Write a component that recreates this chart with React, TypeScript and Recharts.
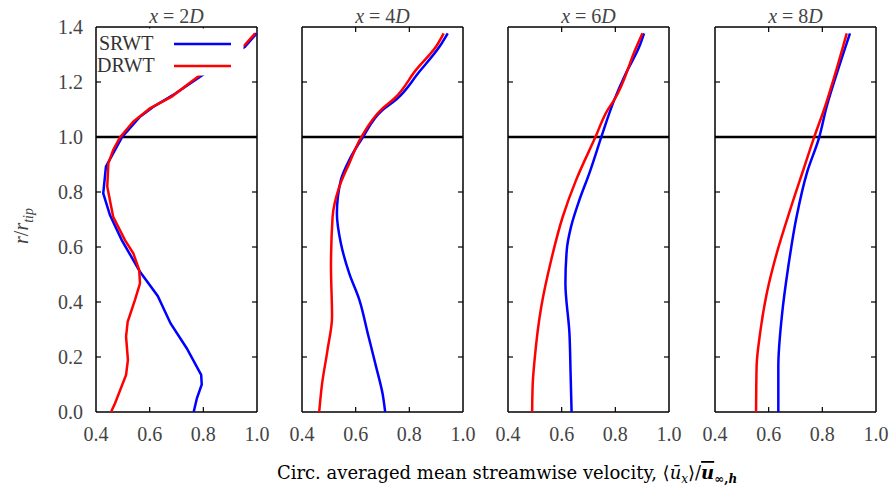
import React from 'react';
import { ScatterChart, Scatter, XAxis, YAxis, ReferenceLine } from 'recharts';

type P = { u: number; r: number };

const xTicks = [0.4, 0.6, 0.8, 1.0];
const yTicks = [0, 0.2, 0.4, 0.6, 0.8, 1.0, 1.2, 1.4];
const stations = ['2', '4', '6', '8'];
const seriesNames = ['SRWT', 'DRWT'];

const srwt2D: P[] = [
  { u: 0.764, r: 0 }, { u: 0.776, r: 0.05 }, { u: 0.794, r: 0.1 }, { u: 0.792, r: 0.135 },
  { u: 0.738, r: 0.232 }, { u: 0.678, r: 0.322 }, { u: 0.63, r: 0.422 }, { u: 0.564, r: 0.51 },
  { u: 0.496, r: 0.625 }, { u: 0.452, r: 0.716 }, { u: 0.427, r: 0.795 }, { u: 0.437, r: 0.892 },
  { u: 0.471, r: 0.953 }, { u: 0.496, r: 0.998 }, { u: 0.564, r: 1.074 }, { u: 0.614, r: 1.11 },
  { u: 0.688, r: 1.153 }, { u: 0.788, r: 1.219 }, { u: 0.955, r: 1.328 }, { u: 0.999, r: 1.377 },
];
const drwt2D: P[] = [
  { u: 0.456, r: 0 }, { u: 0.471, r: 0.032 }, { u: 0.512, r: 0.135 }, { u: 0.519, r: 0.189 },
  { u: 0.512, r: 0.274 }, { u: 0.518, r: 0.328 }, { u: 0.545, r: 0.407 }, { u: 0.564, r: 0.468 },
  { u: 0.561, r: 0.516 }, { u: 0.539, r: 0.577 }, { u: 0.508, r: 0.625 }, { u: 0.464, r: 0.71 },
  { u: 0.442, r: 0.819 }, { u: 0.446, r: 0.904 }, { u: 0.464, r: 0.953 }, { u: 0.489, r: 0.998 },
  { u: 0.539, r: 1.056 }, { u: 0.601, r: 1.104 }, { u: 0.682, r: 1.147 }, { u: 0.788, r: 1.225 },
  { u: 0.955, r: 1.335 }, { u: 0.993, r: 1.377 },
];
const srwt4D: P[] = [
  { u: 0.71, r: 0 }, { u: 0.7, r: 0.068 }, { u: 0.676, r: 0.165 }, { u: 0.645, r: 0.286 },
  { u: 0.614, r: 0.407 }, { u: 0.576, r: 0.504 }, { u: 0.545, r: 0.613 }, { u: 0.53, r: 0.722 },
  { u: 0.545, r: 0.844 }, { u: 0.576, r: 0.916 }, { u: 0.626, r: 0.998 }, { u: 0.7, r: 1.098 },
  { u: 0.75, r: 1.135 }, { u: 0.837, r: 1.237 }, { u: 0.912, r: 1.328 }, { u: 0.943, r: 1.377 },
];
const drwt4D: P[] = [
  { u: 0.464, r: 0 }, { u: 0.475, r: 0.104 }, { u: 0.495, r: 0.225 }, { u: 0.512, r: 0.347 },
  { u: 0.508, r: 0.528 }, { u: 0.514, r: 0.71 }, { u: 0.539, r: 0.819 }, { u: 0.576, r: 0.904 },
  { u: 0.62, r: 0.998 }, { u: 0.7, r: 1.104 }, { u: 0.744, r: 1.14 }, { u: 0.825, r: 1.244 },
  { u: 0.899, r: 1.328 }, { u: 0.928, r: 1.377 },
];
const srwt6D: P[] = [
  { u: 0.637, r: 0 }, { u: 0.633, r: 0.15 }, { u: 0.629, r: 0.286 }, { u: 0.614, r: 0.468 },
  { u: 0.619, r: 0.589 }, { u: 0.635, r: 0.674 }, { u: 0.666, r: 0.771 }, { u: 0.703, r: 0.868 },
  { u: 0.747, r: 0.998 }, { u: 0.796, r: 1.135 }, { u: 0.839, r: 1.231 }, { u: 0.889, r: 1.328 },
  { u: 0.907, r: 1.377 },
];
const drwt6D: P[] = [
  { u: 0.49, r: 0 }, { u: 0.492, r: 0.1 }, { u: 0.499, r: 0.189 }, { u: 0.524, r: 0.383 },
  { u: 0.561, r: 0.553 }, { u: 0.604, r: 0.71 }, { u: 0.654, r: 0.844 }, { u: 0.725, r: 0.998 },
  { u: 0.771, r: 1.098 }, { u: 0.796, r: 1.135 }, { u: 0.876, r: 1.322 }, { u: 0.901, r: 1.377 },
];
const srwt8D: P[] = [
  { u: 0.636, r: 0 }, { u: 0.636, r: 0.165 }, { u: 0.649, r: 0.347 }, { u: 0.673, r: 0.528 },
  { u: 0.704, r: 0.71 }, { u: 0.742, r: 0.868 }, { u: 0.788, r: 0.998 }, { u: 0.816, r: 1.11 },
  { u: 0.854, r: 1.231 }, { u: 0.903, r: 1.377 },
];
const drwt8D: P[] = [
  { u: 0.553, r: 0 }, { u: 0.555, r: 0.165 }, { u: 0.568, r: 0.286 }, { u: 0.593, r: 0.432 },
  { u: 0.63, r: 0.577 }, { u: 0.68, r: 0.735 }, { u: 0.729, r: 0.88 }, { u: 0.769, r: 0.998 },
  { u: 0.81, r: 1.11 }, { u: 0.841, r: 1.207 }, { u: 0.891, r: 1.377 },
];

const srwtAll = [srwt2D, srwt4D, srwt6D, srwt8D];
const drwtAll = [drwt2D, drwt4D, drwt6D, drwt8D];

const X_DOMAIN: [number, number] = [0.4, 1.0];
const Y_DOMAIN: [number, number] = [0, 1.4];

const panelLefts = [96, 302, 508, 715];
const PW = 161;
const TOP = 27;
const BOTTOM = 412;
const H = 488;
const W = 891;
const BLUE = '#0000ff';
const RED = '#ff0000';
const FONT = "'Liberation Serif', 'DejaVu Serif', serif";
const LABEL_FONT = "'DejaVu Serif', 'Liberation Serif', serif";
const TICK_COLOR = '#444';

const AX_B = 40; // bottom label axis height
const AX_L0 = 60; // first-panel left label axis width
const AX_S = 1; // thin left axis for other panels
const TICK_PX = 5; // inward tick length
const X_TICK_MARGIN = 15;
const Y_TICK_MARGIN = 13;

const fmt = (v: number) => v.toFixed(1);
const noShape = () => <g />;
const axisLine = { stroke: '#000', strokeWidth: 1.5 };

// bottom-axis tick: label below, inward tick marks at bottom and top frame edges
const makeXTick = () => (props: any) => {
  const { x, y, payload } = props;
  const v = payload.value as number;
  const inner = v > X_DOMAIN[0] && v < X_DOMAIN[1];
  const axisY = y - X_TICK_MARGIN;
  return (
    <g>
      <text x={x} y={y} dy="0.71em" textAnchor="middle" fontSize={20} fill={TICK_COLOR} fontFamily={FONT}>
        {fmt(v)}
      </text>
      {inner && <line x1={x} x2={x} y1={axisY} y2={axisY - TICK_PX} stroke="#000" strokeWidth={1.2} />}
      {inner && <line x1={x} x2={x} y1={TOP} y2={TOP + TICK_PX} stroke="#000" strokeWidth={1.2} />}
    </g>
  );
};

// left-axis tick: optional label, inward tick marks at left and right frame edges
const makeYTick = (showLabel: boolean, plotLeft: number) => (props: any) => {
  const { x, y, payload } = props;
  const v = payload.value as number;
  const inner = v > Y_DOMAIN[0] && v < Y_DOMAIN[1];
  const plotRight = plotLeft + PW;
  return (
    <g>
      {showLabel && (
        <text x={x} y={y} dy="0.355em" textAnchor="end" fontSize={20} fill={TICK_COLOR} fontFamily={FONT}>
          {fmt(v)}
        </text>
      )}
      {inner && <line x1={plotLeft} x2={plotLeft + TICK_PX} y1={y} y2={y} stroke="#000" strokeWidth={1.2} />}
      {inner && <line x1={plotRight} x2={plotRight - TICK_PX} y1={y} y2={y} stroke="#000" strokeWidth={1.2} />}
    </g>
  );
};

function Panel({ i }: { i: number }) {
  const L = panelLefts[i];
  const first = i === 0;
  const leftAxisW = first ? AX_L0 : AX_S;
  const chartLeft = first ? 0 : L - 40;
  const plotLeftInChart = L - chartLeft;
  const width = plotLeftInChart + PW + 40;
  const joint = first ? 'linear' : 'monotoneY';
  return (
    <div style={{ position: 'absolute', left: chartLeft, top: 0 }}>
      <ScatterChart
        width={width}
        height={H}
        margin={{
          top: TOP,
          right: 40,
          bottom: H - BOTTOM - AX_B,
          left: plotLeftInChart - leftAxisW,
        }}
      >
        <XAxis
          xAxisId="b"
          type="number"
          dataKey="u"
          domain={X_DOMAIN}
          ticks={xTicks}
          interval={0}
          orientation="bottom"
          height={AX_B}
          tickSize={0}
          tickMargin={X_TICK_MARGIN}
          tick={makeXTick()}
          axisLine={false}
          tickLine={false}
          allowDataOverflow
        />
        <YAxis
          yAxisId="l"
          type="number"
          dataKey="r"
          domain={Y_DOMAIN}
          ticks={yTicks}
          interval={0}
          orientation="left"
          width={leftAxisW}
          tickSize={0}
          tickMargin={Y_TICK_MARGIN}
          tick={makeYTick(first, plotLeftInChart)}
          axisLine={false}
          tickLine={false}
          allowDataOverflow
        />
        {/* frame */}
        <XAxis xAxisId="bm" type="number" domain={X_DOMAIN} orientation="bottom" mirror tick={false} tickLine={false} axisLine={axisLine} allowDataOverflow />
        <XAxis xAxisId="tm" type="number" domain={X_DOMAIN} orientation="top" mirror tick={false} tickLine={false} axisLine={axisLine} allowDataOverflow />
        <YAxis yAxisId="lm" type="number" domain={Y_DOMAIN} orientation="left" mirror tick={false} tickLine={false} axisLine={axisLine} allowDataOverflow />
        <YAxis yAxisId="rm" type="number" domain={Y_DOMAIN} orientation="right" mirror tick={false} tickLine={false} axisLine={axisLine} allowDataOverflow />

        <ReferenceLine xAxisId="b" yAxisId="l" y={1.0} stroke="#000" strokeWidth={2.5} />
        <Scatter
          name={seriesNames[0]}
          xAxisId="b"
          yAxisId="l"
          data={srwtAll[i]}
          line={{ stroke: BLUE, strokeWidth: 2.5 }}
          lineType="joint"
          lineJointType={joint}
          shape={noShape}
          fill={BLUE}
          isAnimationActive={false}
        />
        <Scatter
          name={seriesNames[1]}
          xAxisId="b"
          yAxisId="l"
          data={drwtAll[i]}
          line={{ stroke: RED, strokeWidth: 2.5 }}
          lineType="joint"
          lineJointType={joint}
          shape={noShape}
          fill={RED}
          isAnimationActive={false}
        />
      </ScatterChart>
    </div>
  );
}

export default function App() {
  return (
    <div style={{ position: 'absolute', left: 0, top: 0, width: W, height: H, background: '#fff' }}>
      {stations.map((_, i) => (
        <Panel key={i} i={i} />
      ))}
      <svg
        width={W}
        height={H}
        style={{ position: 'absolute', left: 0, top: 0, pointerEvents: 'none' }}
        fontFamily={FONT}
      >
        {/* legend */}
        <rect x={97.5} y={28.5} width={146} height={47} fill="#fff" />
        <text x={99} y={50} fontSize={20} fill="#333">{seriesNames[0]}</text>
        <line x1={174} x2={231} y1={44} y2={44} stroke={BLUE} strokeWidth={2.5} />
        <text x={97} y={72} fontSize={20} fill="#333">{seriesNames[1]}</text>
        <line x1={174} x2={231} y1={66} y2={66} stroke={RED} strokeWidth={2.5} />

        {/* titles */}
        {stations.map((s, i) => (
          <text
            key={s}
            x={panelLefts[i] + PW / 2}
            y={23}
            fontSize={20}
            fill="#444"
            textAnchor="middle"
          >
            <tspan fontStyle="italic">x</tspan>
            <tspan> = {s}</tspan>
            <tspan fontStyle="italic">D</tspan>
          </text>
        ))}

        {/* y label */}
        <text x={28} y={226} fontSize={20} fill="#444" textAnchor="middle" transform="rotate(-90 28 226)">
          <tspan fontStyle="italic">r</tspan>
          <tspan>/</tspan>
          <tspan fontStyle="italic">r</tspan>
          <tspan fontStyle="italic" fontSize={14} dy={5}>tip</tspan>
        </text>

        {/* x label */}
        <text x={507} y={479} fontSize={18} fill="#000" textAnchor="middle" fontFamily={LABEL_FONT}>
          <tspan>Circ. averaged mean streamwise velocity, ⟨</tspan>
          <tspan fontStyle="italic">ū</tspan>
          <tspan fontStyle="italic" fontSize={12} dy={4}>x</tspan>
          <tspan dy={-4}>⟩/</tspan>
          <tspan fontStyle="italic" fontWeight="bold" textDecoration="overline">u</tspan>
          <tspan fontWeight="bold" fontSize={12} dy={4}>∞,</tspan>
          <tspan fontWeight="bold" fontStyle="italic" fontSize={12}>h</tspan>
        </text>
      </svg>
    </div>
  );
}
